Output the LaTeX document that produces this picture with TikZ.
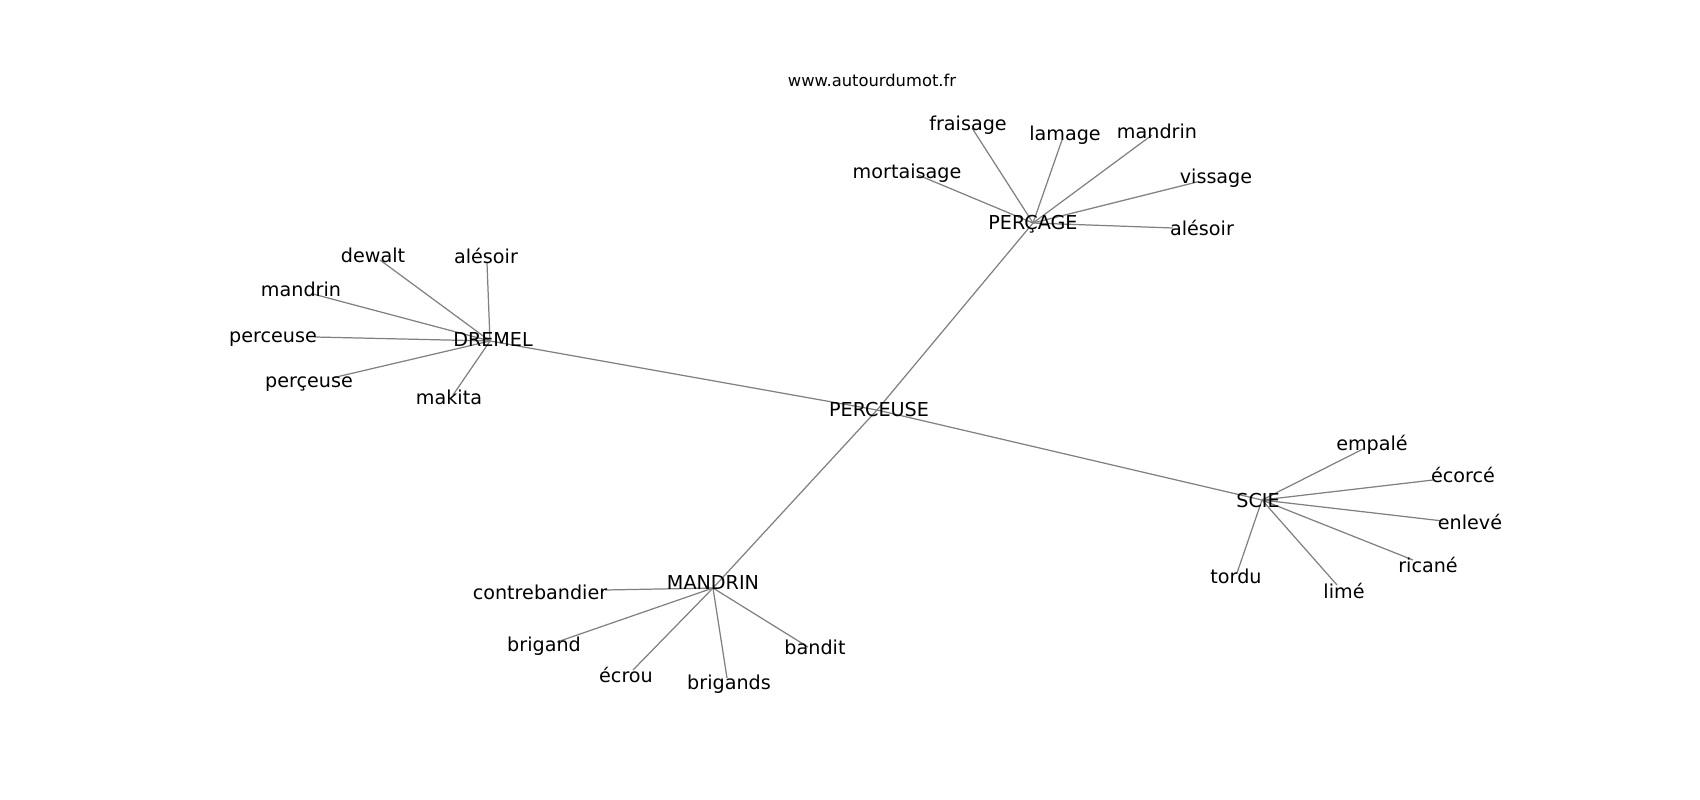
\documentclass[tikz,border=0pt]{standalone}
\usepackage{fontspec}
\setmainfont{DejaVu Sans}
\tikzset{
	mot/.style={anchor=base,inner sep=0pt,font=\fontsize{5.45pt}{6.5pt}\selectfont},
	site/.style={anchor=base,inner sep=0pt,font=\fontsize{4.65pt}{5.5pt}\selectfont},
	lien/.style={draw=gray,line width=0.35pt}
}
\begin{document}
\begin{tikzpicture}[x=0.01cm,y=-0.01cm]
	\useasboundingbox (0,0) rectangle (1700,800);
		\coordinate (perceuse) at (877,410);
		\coordinate (percage) at (1033,223);
		\coordinate (dremel) at (490,341);
		\coordinate (scie) at (1262,500);
		\coordinate (mandrin) at (713,588);
			\coordinate (fraisage) at (972,128);
			\coordinate (lamage) at (1062,140);
			\coordinate (p-mandrin) at (1152,135);
			\coordinate (mortaisage) at (918,175);
			\coordinate (vissage) at (1197,182);
			\coordinate (p-alesoir) at (1173,228);
			\coordinate (dewalt) at (380,260);
			\coordinate (d-alesoir) at (487,263);
			\coordinate (d-mandrin) at (313,294);
			\coordinate (d-perceuse) at (315,337);
			\coordinate (d-perceuse2) at (332,378);
			\coordinate (makita) at (453,395);
			\coordinate (contrebandier) at (605,590);
			\coordinate (brigand) at (557,642);
			\coordinate (ecrou) at (633,670);
			\coordinate (brigands) at (727,678);
			\coordinate (bandit) at (808,647);
			\coordinate (empale) at (1363,449);
			\coordinate (ecorce) at (1433,480);
			\coordinate (enleve) at (1443,521);
			\coordinate (ricane) at (1413,560);
			\coordinate (tordu) at (1237,573);
			\coordinate (lime) at (1337,585);
				\draw[lien] (perceuse)--(percage);
				\draw[lien] (perceuse)--(dremel);
				\draw[lien] (perceuse)--(scie);
				\draw[lien] (perceuse)--(mandrin);
				\draw[lien] (percage)--(fraisage);
				\draw[lien] (percage)--(lamage);
				\draw[lien] (percage)--(p-mandrin);
				\draw[lien] (percage)--(mortaisage);
				\draw[lien] (percage)--(vissage);
				\draw[lien] (percage)--(p-alesoir);
				\draw[lien] (dremel)--(dewalt);
				\draw[lien] (dremel)--(d-alesoir);
				\draw[lien] (dremel)--(d-mandrin);
				\draw[lien] (dremel)--(d-perceuse);
				\draw[lien] (dremel)--(d-perceuse2);
				\draw[lien] (dremel)--(makita);
				\draw[lien] (mandrin)--(contrebandier);
				\draw[lien] (mandrin)--(brigand);
				\draw[lien] (mandrin)--(ecrou);
				\draw[lien] (mandrin)--(brigands);
				\draw[lien] (mandrin)--(bandit);
				\draw[lien] (scie)--(empale);
				\draw[lien] (scie)--(ecorce);
				\draw[lien] (scie)--(enleve);
				\draw[lien] (scie)--(ricane);
				\draw[lien] (scie)--(tordu);
				\draw[lien] (scie)--(lime);
	\node[site] (www) at (872,87) {www.autourdumot.fr};
	\node[mot] (t-perceuse) at (879,416) {PERCEUSE};
	\node[mot] (t-percage) at (1033,229) {PERÇAGE};
	\node[mot] (t-dremel) at (493,346) {DREMEL};
	\node[mot] (t-scie) at (1258,507) {SCIE};
	\node[mot] (t-mandrin) at (713,589) {MANDRIN};
		\node[mot] (t-fraisage) at (968,130) {fraisage};
		\node[mot] (t-lamage) at (1065,140) {lamage};
		\node[mot] (t-p-mandrin) at (1157,138) {mandrin};
		\node[mot] (t-mortaisage) at (907,178) {mortaisage};
		\node[mot] (t-vissage) at (1216,183) {vissage};
		\node[mot] (t-p-alesoir) at (1202,235) {alésoir};
		\node[mot] (t-dewalt) at (373,262) {dewalt};
		\node[mot] (t-d-alesoir) at (486,263) {alésoir};
		\node[mot] (t-d-mandrin) at (301,296) {mandrin};
		\node[mot] (t-d-perceuse) at (273,342) {perceuse};
		\node[mot] (t-d-perceuse2) at (309,387) {perçeuse};
		\node[mot] (t-makita) at (449,404) {makita};
		\node[mot] (t-contrebandier) at (540,599) {contrebandier};
		\node[mot] (t-brigand) at (544,651) {brigand};
		\node[mot] (t-ecrou) at (626,682) {écrou};
		\node[mot] (t-brigands) at (729,689) {brigands};
		\node[mot] (t-bandit) at (815,654) {bandit};
		\node[mot] (t-empale) at (1372,450) {empalé};
		\node[mot] (t-ecorce) at (1463,482) {écorcé};
		\node[mot] (t-enleve) at (1470,529) {enlevé};
		\node[mot] (t-ricane) at (1428,572) {ricané};
		\node[mot] (t-tordu) at (1236,583) {tordu};
		\node[mot] (t-lime) at (1344,598) {limé};
\end{tikzpicture}
\end{document}
